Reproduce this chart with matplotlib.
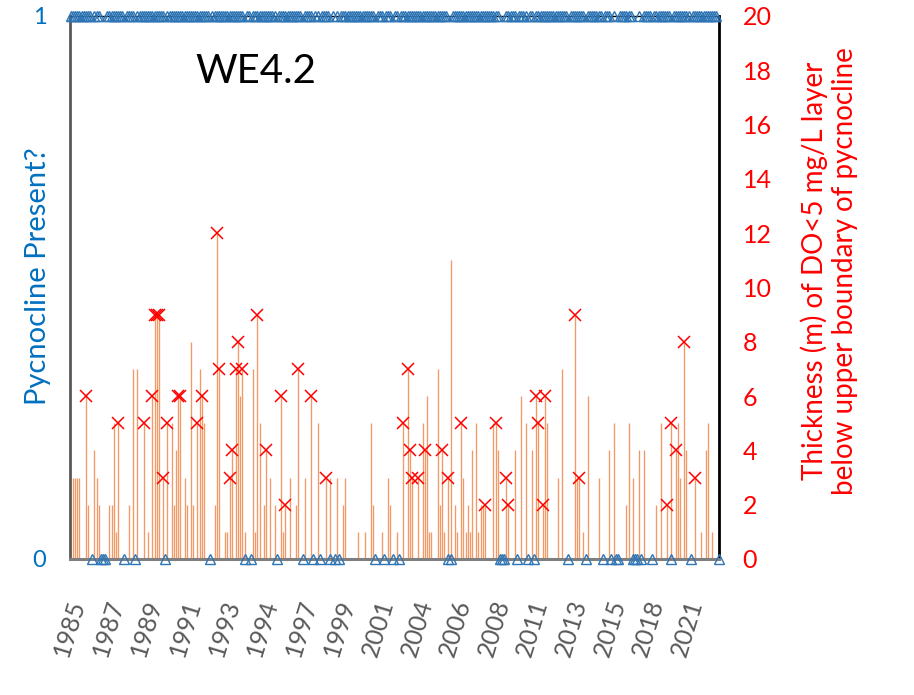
import matplotlib
matplotlib.use('Agg')
import matplotlib.pyplot as plt
import matplotlib.transforms as mtransforms
import numpy as np

# ---------------- data ----------------
n_samples = 303                      # sampling events (category axis)
year_labels = ['1985', '1987', '1989', '1991', '1993', '1994', '1997', '1999',
               '2001', '2004', '2006', '2008', '2011', '2013', '2015', '2018', '2021']
label_every = 18                     # one label every 18 samples

# samples where no pycnocline was present (0); all others present (1)
absent_samples = [10, 14, 15, 16, 25, 30, 44, 65, 81, 84, 96, 108, 113, 116, 121, 123,
                  125, 142, 146, 150, 153, 176, 177, 200, 201, 202, 208, 213, 216, 232,
                  240, 248, 252, 254, 255, 262, 263, 264, 266, 271, 280, 289, 302]

# thickness (m) of DO<5 mg/L layer below upper boundary of pycnocline
thick_sample = [1, 2, 3, 4, 7, 8, 11, 12, 13, 18, 19, 20, 21, 22, 27, 29, 31, 34, 36, 38,
                39, 40, 41, 43, 45, 47, 48, 49, 50, 51, 53, 54, 56, 57, 59, 60, 61, 62, 67,
                68, 69, 72, 73, 74, 75, 77, 78, 79, 80, 81, 85, 86, 87, 88, 90, 91, 93, 95,
                98, 99, 100, 102, 105, 106, 109, 112, 115, 119, 121, 124, 127, 128, 134,
                137, 140, 141, 145, 148, 149, 152, 155, 157, 158, 159, 162, 164, 165, 166,
                167, 168, 171, 172, 173, 174, 176, 177, 179, 180, 182, 183, 184, 185, 186,
                187, 189, 190, 191, 192, 193, 197, 198, 199, 203, 204, 207, 210, 212, 215,
                217, 218, 220, 221, 222, 227, 229, 235, 236, 237, 239, 241, 246, 251, 253,
                259, 260, 262, 265, 267, 273, 275, 278, 280, 282, 283, 284, 286, 287, 291,
                294, 296, 297, 299]
thick_m = [3, 3, 3, 3, 6, 2, 4, 3, 2, 2, 2, 5, 1, 5, 2, 7, 7, 5, 1, 6,
           9, 9, 9, 3, 5, 5, 2, 4, 6, 6, 3, 2, 8, 2, 5, 7, 6, 5, 2,
           12, 7, 1, 1, 3, 4, 7, 8, 6, 7, 1, 7, 1, 9, 5, 2, 4, 3, 2,
           6, 1, 2, 3, 2, 7, 3, 6, 5, 3, 3, 3, 2, 3, 1,
           1, 5, 2, 1, 3, 2, 1, 5, 7, 4, 3, 3, 5, 4, 6,
           1, 1, 7, 2, 4, 1, 3, 11, 2, 1, 5, 3, 1, 2, 1,
           4, 5, 1, 2, 2, 2, 5, 5, 4, 3, 2, 4, 6, 5, 4,
           6, 5, 2, 6, 5, 3, 7, 9, 3, 3, 1, 6, 3, 4, 5,
           2, 5, 3, 4, 4, 2, 5, 2, 5, 4, 5, 3, 8, 4, 3,
           1, 4, 5, 1]

# samples flagged with a red cross
flagged_samples = [7, 22, 34, 38, 39, 40, 41, 43, 45, 50, 51, 59, 61, 68, 69, 74, 75, 77,
                   78, 80, 87, 91, 98, 100, 106, 112, 119, 155, 157, 158, 159, 162, 165,
                   173, 176, 182, 193, 198, 203, 204, 217, 218, 220, 221, 235, 237, 278,
                   280, 282, 286, 291]

# ---------------- derived ----------------
sample_no = np.arange(n_samples)
presence = np.ones(n_samples)
presence[absent_samples] = 0
thick_lookup = dict(zip(thick_sample, thick_m))
flag_vals = [thick_lookup[s] for s in flagged_samples]

BLUE = '#0070C0'
TRI = '#2E75B6'
ORANGE = '#F0894A'

plt.rcParams['font.family'] = ['Lato', 'DejaVu Sans']

fig = plt.figure(figsize=(9.14, 6.95), dpi=100)
ax = fig.add_axes([0.0766, 0.1957, 0.7101, 0.7813])
ax2 = ax.twinx()

# thickness stems + crosses on secondary axis
ax2.vlines(thick_sample, 0, thick_m, color=ORANGE, lw=0.95, alpha=0.85, zorder=2)
ax2.plot(flagged_samples, flag_vals, linestyle='none', marker='x', color='#FF0000',
         ms=9, mew=1.1, zorder=3)
ax2.set_ylim(0, 20)
ax2.set_yticks(range(0, 21, 2))
ax2.tick_params(axis='y', colors='#FF0000', labelsize=18, length=0, pad=17)
ax2.set_ylabel('Thickness (m) of DO<5 mg/L layer\nbelow upper boundary of pycnocline',
               color='#FF0000', fontsize=20, linespacing=1.2)
ax2.yaxis.set_label_coords(1.125, 0.53)

# presence triangles on primary axis (drawn on top)
ax.set_zorder(ax2.get_zorder() + 1)
ax.patch.set_visible(False)
ax.plot(sample_no, presence, linestyle='none', marker='^', mfc='none', mec=TRI,
        ms=7, mew=1.0, clip_on=False, zorder=4)
ax.set_ylim(0, 1)
ax.set_yticks([0, 1])
ax.tick_params(axis='y', colors=BLUE, labelsize=17, length=0, pad=17)
ax.set_ylabel('Pycnocline Present?', color=BLUE, fontsize=21)
ax.yaxis.set_label_coords(-0.03, 0.52)

ax.set_xlim(-0.4, n_samples - 1 + 0.2)
tick_pos = np.arange(len(year_labels)) * label_every
ax.set_xticks(tick_pos)
ax.set_xticklabels(year_labels, rotation=73, ha='right', va='center',
                   rotation_mode='anchor', color='#595959', fontsize=18)
ax.tick_params(axis='x', length=0, pad=30)
shift = mtransforms.ScaledTranslation(7 / 100, 0, fig.dpi_scale_trans)
for lab in ax.get_xticklabels():
    lab.set_transform(lab.get_transform() + shift)

for a in (ax, ax2):
    for s in a.spines.values():
        s.set_visible(False)
ax.spines['left'].set_visible(True)
ax.spines['left'].set_color('#595959')
ax.spines['left'].set_linewidth(2)
ax.spines['bottom'].set_visible(True)
ax.spines['bottom'].set_color('#7F7F7F')
ax.spines['bottom'].set_linewidth(2.2)
ax.spines['right'].set_visible(True)
ax.spines['right'].set_color('black')
ax.spines['right'].set_linewidth(2)
ax.spines['top'].set_visible(True)
ax.spines['top'].set_color('black')
ax.spines['top'].set_linewidth(1)

ax.text(0.193, 0.897, 'WE4.2', transform=ax.transAxes, fontsize=29,
        ha='left', va='center', color='black')

fig.savefig('out.png', dpi=100)
